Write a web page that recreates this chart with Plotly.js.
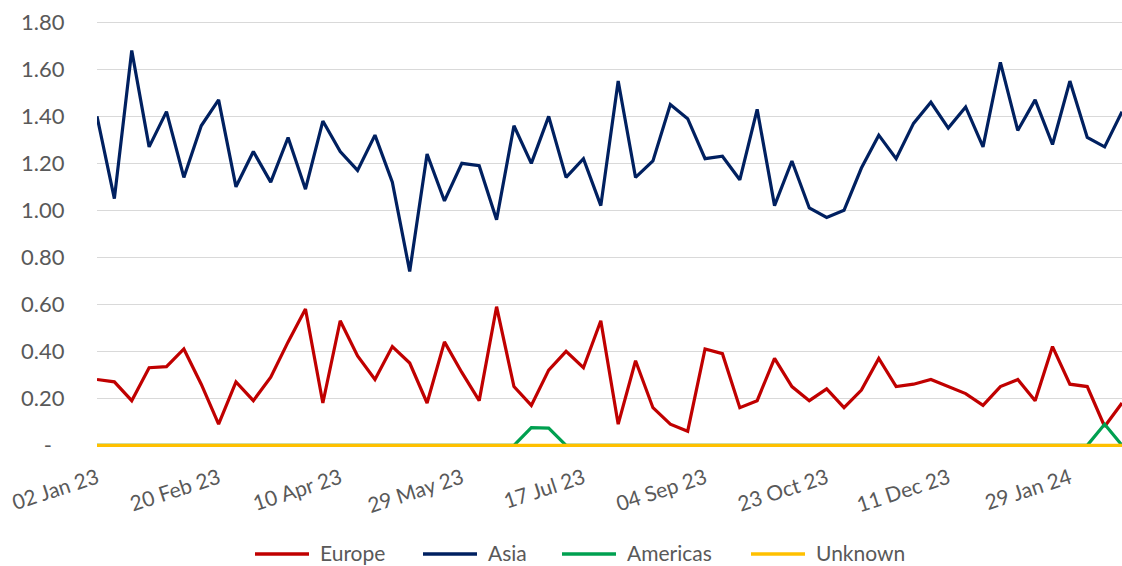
<!DOCTYPE html>
<html>
<head>
<meta charset="utf-8">
<script src="https://cdn.plot.ly/plotly-3.0.1.min.js"></script>
<style>
  html, body { margin: 0; padding: 0; background: #ffffff; }
  #chart { width: 1122px; height: 566px; }
</style>
</head>
<body>
<div id="chart"></div>
<script>
const weeks = [
  "02 Jan 23","09 Jan 23","16 Jan 23","23 Jan 23","30 Jan 23","06 Feb 23","13 Feb 23","20 Feb 23",
  "27 Feb 23","06 Mar 23","13 Mar 23","20 Mar 23","27 Mar 23","03 Apr 23","10 Apr 23","17 Apr 23",
  "24 Apr 23","01 May 23","08 May 23","15 May 23","22 May 23","29 May 23","05 Jun 23","12 Jun 23",
  "19 Jun 23","26 Jun 23","03 Jul 23","10 Jul 23","17 Jul 23","24 Jul 23","31 Jul 23","07 Aug 23",
  "14 Aug 23","21 Aug 23","28 Aug 23","04 Sep 23","11 Sep 23","18 Sep 23","25 Sep 23","02 Oct 23",
  "09 Oct 23","16 Oct 23","23 Oct 23","30 Oct 23","06 Nov 23","13 Nov 23","20 Nov 23","27 Nov 23",
  "04 Dec 23","11 Dec 23","18 Dec 23","25 Dec 23","01 Jan 24","08 Jan 24","15 Jan 24","22 Jan 24",
  "29 Jan 24","05 Feb 24","12 Feb 24","19 Feb 24"
];

const europe = [
  0.28,0.27,0.19,0.33,0.335,0.41,0.26,0.09,0.27,0.19,0.29,0.44,0.58,0.18,0.53,0.38,
  0.28,0.42,0.35,0.18,0.44,0.31,0.19,0.59,0.25,0.17,0.32,0.40,0.33,0.53,0.09,0.36,
  0.16,0.09,0.06,0.41,0.39,0.16,0.19,0.37,0.25,0.19,0.24,0.16,0.235,0.37,0.25,0.26,
  0.28,0.25,0.22,0.17,0.25,0.28,0.19,0.42,0.26,0.25,0.08,0.18
];

const asia = [
  1.40,1.05,1.68,1.27,1.42,1.14,1.36,1.47,1.10,1.25,1.12,1.31,1.09,1.38,1.25,1.17,
  1.32,1.12,0.74,1.24,1.04,1.20,1.19,0.96,1.36,1.20,1.40,1.14,1.22,1.02,1.55,1.14,
  1.21,1.45,1.39,1.22,1.23,1.13,1.43,1.02,1.21,1.01,0.97,1.00,1.18,1.32,1.22,1.37,
  1.46,1.35,1.44,1.27,1.63,1.34,1.47,1.28,1.55,1.31,1.27,1.42
];

const americas = [
  0,0,0,0,0,0,0,0,0,0,0,0,0,0,0,0,
  0,0,0,0,0,0,0,0,0,0.075,0.073,0,0,0,0,0,
  0,0,0,0,0,0,0,0,0,0,0,0,0,0,0,0,
  0,0,0,0,0,0,0,0,0,0,0.09,0
];

const unknown = [
  0,0,0,0,0,0,0,0,0,0,0,0,0,0,0,0,
  0,0,0,0,0,0,0,0,0,0,0,0,0,0,0,0,
  0,0,0,0,0,0,0,0,0,0,0,0,0,0,0,0,
  0,0,0,0,0,0,0,0,0,0,0,0
];

const seriesNames = ["Europe", "Asia", "Americas", "Unknown"];
const xTickLabels = ["02 Jan 23","20 Feb 23","10 Apr 23","29 May 23","17 Jul 23","04 Sep 23","23 Oct 23","11 Dec 23","29 Jan 24"];
const yTickVals = [0,0.2,0.4,0.6,0.8,1.0,1.2,1.4,1.6,1.8];
const yTickText = ["-\u2007","0.20","0.40","0.60","0.80","1.00","1.20","1.40","1.60","1.80"];

const FONT = "Lato, 'Open Sans', sans-serif";
const GREY = "#595959";
const COLORS = ["#C00000", "#002060", "#00A050", "#FFC000"];
const SERIES = [europe, asia, americas, unknown];

// plot geometry (pixels)
const W = 1122, H = 566, ML = 97, MR = 0, MT = 20, MB = 116;
const PW = W - ML - MR, PH = H - MT - MB;
const px2x = p => (p - ML) / PW;
const px2y = p => (H - MB - p) / PH;

const data = seriesNames.map((name, i) => ({
  type: "scatter", mode: "lines", name: name, x: weeks, y: SERIES[i],
  line: { color: COLORS[i], width: 3.2 }, hoverinfo: "x+y+name", showlegend: false
}));

// custom legend (line sample + label), laid out like the original
const legendLineStart = [255, 423, 562, 751];
const legendLineLen = 54;
const legendTextGap = 10;
const legendLineY = 554;
const legendTextY = 552;
const shapes = [], annotations = [];
seriesNames.forEach((name, i) => {
  const x0 = legendLineStart[i];
  shapes.push({
    type: "line", xref: "paper", yref: "paper",
    x0: px2x(x0), x1: px2x(x0 + legendLineLen), y0: px2y(legendLineY), y1: px2y(legendLineY),
    line: { color: COLORS[i], width: 3.3 }
  });
  annotations.push({
    xref: "paper", yref: "paper", x: px2x(x0 + legendLineLen + legendTextGap), y: px2y(legendTextY),
    xanchor: "left", yanchor: "middle", showarrow: false, text: name, borderpad: 0,
    font: { family: FONT, size: 21, color: GREY }
  });
});

const layout = {
  width: W, height: H,
  margin: { l: ML, r: MR, t: MT, b: MB, autoexpand: false },
  paper_bgcolor: "#ffffff", plot_bgcolor: "#ffffff",
  font: { family: FONT, color: GREY, size: 21 },
  showlegend: false,
  shapes: shapes,
  annotations: annotations,
  xaxis: {
    type: "category", range: [0, 59], showgrid: false, zeroline: false, showline: false,
    tickmode: "array", tickvals: xTickLabels, ticktext: xTickLabels, tickangle: -18,
    ticks: "outside", ticklen: 7, tickcolor: "rgba(0,0,0,0)",
    tickfont: { family: FONT, size: 21, color: GREY }, fixedrange: true
  },
  yaxis: {
    range: [-0.02, 1.81], showgrid: true, gridcolor: "#D9D9D9", gridwidth: 1.4,
    zeroline: false, showline: false,
    tickmode: "array", tickvals: yTickVals, ticktext: yTickText,
    ticks: "outside", ticklen: 27, tickcolor: "rgba(0,0,0,0)",
    tickfont: { family: FONT, size: 22, color: GREY }, fixedrange: true
  }
};

Plotly.newPlot("chart", data, layout, { displayModeBar: false });
</script>
</body>
</html>
